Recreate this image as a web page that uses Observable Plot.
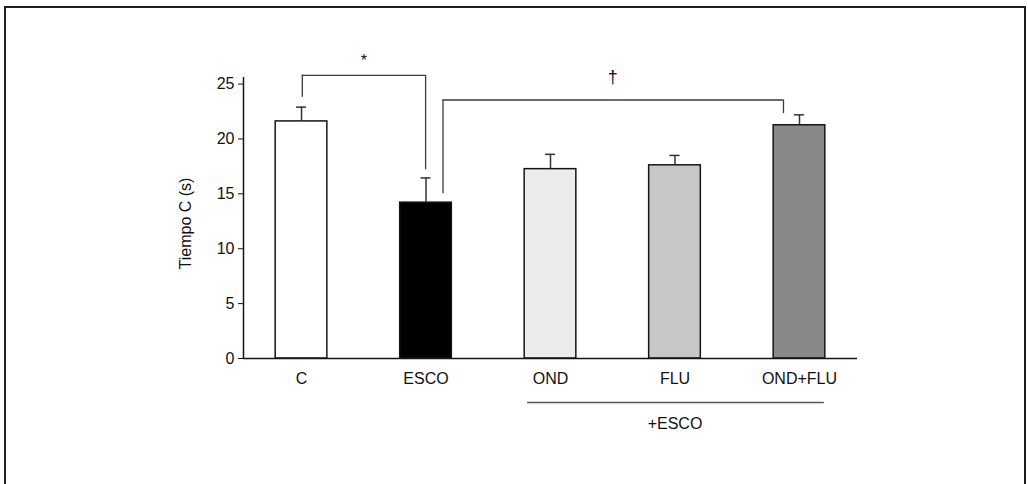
<!DOCTYPE html>
<html>
<head>
<meta charset="utf-8">
<script src="https://cdn.jsdelivr.net/npm/d3@7"></script>
<script src="https://cdn.jsdelivr.net/npm/@observablehq/plot@0.6"></script>
<style>
  html, body { margin: 0; padding: 0; background: #fff; overflow: hidden; }
  #wrap { position: relative; width: 1028px; height: 484px; }
  #border { position: absolute; left: 4px; top: 6px; width: 1018px; height: 520px; border: 2px solid #1e1e1e; box-sizing: content-box; }
  #chart { position: absolute; left: 0; top: 0; }
</style>
</head>
<body>
<div id="wrap">
  <div id="border"></div>
  <div id="chart"></div>
</div>
<script>
// ---- data ----
const groups = ["C", "ESCO", "OND", "FLU", "OND+FLU"];
const means  = [21.6, 14.2, 17.25, 17.6, 21.25];
const sems   = [1.3, 2.25, 1.35, 0.9, 0.95];
const fills  = ["#ffffff", "#000000", "#ececec", "#c6c7c9", "#87888a"];
const yTicks = [0, 5, 10, 15, 20, 25];
const yLabel = "Tiempo C (s)";
const brackets = [
  {from: "C", to: "ESCO", yFrom: 23.8, yTo: 17.2, yTop: 25.8, mark: "*"},
  {from: "ESCO", to: "OND+FLU", yFrom: 15.0, yTo: 22.3, yTop: 23.55, mark: "\u2020"}
];
const groupLabels = [{from: "OND", to: "OND+FLU", label: "+ESCO"}];

// ---- layout / style ----
const W = 1028, H = 484;
const mL = 243, mR = 171, mT = 77, mB = 126;
const PI = 0.585, PO = 0.2585;
const step = (W - mL - mR) / (groups.length - PI + 2 * PO);
const bw = step * (1 - PI);
const idx = g => groups.indexOf(g);
const bracketStyle = [
  {dxL: 0.8, dxR: -0.4, dy: -14, size: 16},
  {dxL: 17, dxR: -16, dy: -23, size: 18}
];
const font = "'Liberation Sans', Arial, Helvetica, sans-serif";
const lineColor = "#3a3a3a";

const data = groups.map((g, i) => ({group: g, mean: means[i], sem: sems[i], fill: fills[i]}));

const marks = [
  Plot.barY(data, {x: "group", y: "mean", fill: "fill", stroke: "#151515", strokeWidth: 1.5}),
  Plot.ruleX(data, {x: "group", y1: "mean", y2: d => d.mean + d.sem, stroke: "#333", strokeWidth: 1.5}),
  Plot.tickY(data, {x: "group", y: d => d.mean + d.sem, insetLeft: (bw - 10) / 2, insetRight: (bw - 10) / 2, stroke: "#333", strokeWidth: 1.5}),
  Plot.ruleY([0], {stroke: "#151515", strokeWidth: 1.5}),
  Plot.ruleX([groups[0]], {dx: -(PO * step + bw / 2), stroke: "#151515", strokeWidth: 1.5}),
  Plot.text([yLabel], {frameAnchor: "left", textAnchor: "middle", rotate: -90, dx: -57.5, dy: 5.5, fontSize: 16, fill: "#111"})
];

brackets.forEach((b, k) => {
  const s = bracketStyle[k];
  marks.push(
    Plot.ruleX([b], {x: "from", y1: "yFrom", y2: "yTop", dx: s.dxL, stroke: lineColor, strokeWidth: 1.3}),
    Plot.ruleX([b], {x: "to", y1: "yTo", y2: "yTop", dx: s.dxR, stroke: lineColor, strokeWidth: 1.3}),
    Plot.ruleY([b], {x1: "from", x2: "to", y: "yTop", insetLeft: bw / 2 + s.dxL, insetRight: bw / 2 - s.dxR, stroke: lineColor, strokeWidth: 1.3}),
    Plot.text([b], {x: "from", y: "yTop", text: "mark", dx: (idx(b.to) - idx(b.from)) / 2 * step, dy: s.dy, fontSize: s.size, fill: "#111"})
  );
});

groupLabels.forEach(g => {
  marks.push(
    Plot.ruleY([g], {x1: "from", x2: "to", y: () => 0, dy: 44, insetLeft: 3, insetRight: 1, stroke: "#555", strokeWidth: 1.6}),
    Plot.text([g], {x: "from", y: () => 0, text: "label", dx: (idx(g.to) - idx(g.from)) / 2 * step, dy: 65, fontSize: 16, fill: "#111"})
  );
});

const chart = Plot.plot({
  width: W, height: H,
  marginLeft: mL, marginRight: mR, marginTop: mT, marginBottom: mB,
  x: {domain: groups, paddingInner: PI, paddingOuter: PO, align: 0.5, round: false, tickSize: 0, tickPadding: 14, label: null},
  y: {domain: [0, 25.6], ticks: yTicks, tickSize: 5, tickPadding: 4, label: null, tickFormat: d => String(d)},
  color: {type: "identity"},
  style: {fontFamily: font, fontSize: "16px", color: "#111", background: "transparent", overflow: "visible"},
  marks
});
document.getElementById("chart").appendChild(chart);
</script>
</body>
</html>
